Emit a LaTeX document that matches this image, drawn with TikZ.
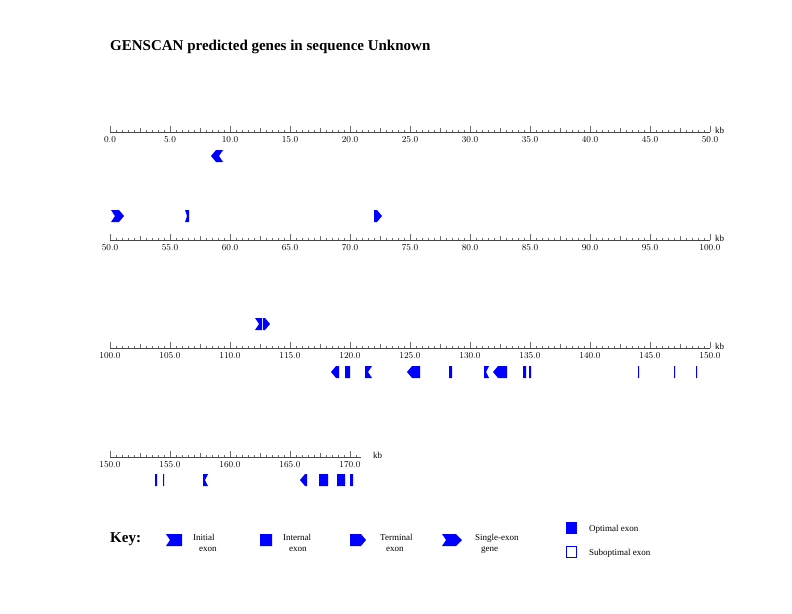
\documentclass[tikz,border=0pt]{standalone}
\usepackage{fontspec}
\setmainfont{Liberation Serif}
\usetikzlibrary{positioning}
\definecolor{exonBlue}{RGB}{0,0,255}
\definecolor{rulerGray}{RGB}{70,70,70}
\tikzset{
  exon/.style={fill=exonBlue},
  ruler line/.style={draw=rulerGray,line width=.7pt},
  ruler tick/.style={draw=rulerGray!80,line width=.5pt},
  tick label/.style={inner sep=0pt,font=\fontsize{9}{10}\selectfont},
  key text/.style={inner sep=0pt,anchor=base west,align=left,font=\fontsize{9}{11}\selectfont},
}
% a, b, y, top-left inset, mid-left inset, top-right inset, mid-right inset
\newcommand{\exonshape}[7]{\fill[exon] (#1+#4,#3-6) -- (#2-#6,#3-6) -- (#2-#7,#3) -- (#2-#6,#3+6) -- (#1+#4,#3+6) -- (#1+#5,#3) -- cycle;}
\newcommand{\initFwd}[4][4]{\exonshape{#2}{#3}{#4}{0}{#1}{0}{0}}
\newcommand{\termFwd}[3]{\exonshape{#1}{#2}{#3}{0}{0}{5}{0}}
\newcommand{\singleFwd}[3]{\exonshape{#1}{#2}{#3}{0}{4}{5}{0}}
\newcommand{\intExon}[3]{\exonshape{#1}{#2}{#3}{0}{0}{0}{0}}
\newcommand{\initRev}[4][4]{\exonshape{#2}{#3}{#4}{0}{0}{0}{#1}}
\newcommand{\termRev}[3]{\exonshape{#1}{#2}{#3}{5}{0}{0}{0}}
\newcommand{\singleRev}[3]{\exonshape{#1}{#2}{#3}{5}{0}{0}{4}}
% name, y, first kb, last label, end x, last tick, kb x
\newcommand{\kbruler}[7]{%
  \draw[ruler line] (110,#2) -- (#5,#2);
  \foreach \i in {0,...,#6}{%
    \pgfmathsetmacro{\tickh}{mod(\i,10)==0 ? 6 : (mod(\i,5)==0 ? 4 : 2.3)}%
    \draw[ruler tick] (110+6*\i,#2) -- ++(0,-\tickh);}
  \foreach \j in {0,...,#4}{%
    \pgfmathsetmacro{\kbval}{#3+5*\j}%
    \node[tick label] (#1-\j) at (110+60*\j,#2+8) {\pgfmathprintnumber[fixed,fixed zerofill,precision=1]{\kbval}};}
  \node[tick label,anchor=west] (#1-kb) at (#7,#2-2) {kb};}

\begin{document}
\begin{tikzpicture}[x=1pt,y=-1pt]
\fill[white] (0,0) rectangle (792,613);
\useasboundingbox (0,0) rectangle (792,613);
\node[anchor=base west,inner sep=0pt,font=\bfseries\fontsize{15}{18}\selectfont] (title) at (110,50) {GENSCAN predicted genes in sequence Unknown};

\kbruler{rowA}{132}{0}{10}{710}{100}{715}
\kbruler{rowB}{240}{50}{10}{710}{100}{715}
\kbruler{rowC}{348}{100}{10}{710}{100}{715}
\kbruler{rowD}{457}{150}{4}{361}{41}{373}

\singleRev{211}{223}{156}

\singleFwd{111}{124}{216}
\initFwd[2]{185}{189}{216}
\termFwd{374}{382}{216}

\initFwd{255}{262}{324}
\termFwd{263}{270}{324}
\termRev{331}{339}{372}
\intExon{345}{350}{372}
\initRev{365}{372}{372}
\termRev{407}{420}{372}
\intExon{449}{452}{372}
\initRev[3]{484}{489}{372}
\termRev{493}{507}{372}
\intExon{523}{526}{372}
\intExon{529}{531}{372}
\intExon{638}{639}{372}
\intExon{674}{675}{372}
\intExon{696}{697}{372}

\intExon{155}{157}{480}
\intExon{163}{164.2}{480}
\initRev[3]{203}{208}{480}
\termRev{300}{307}{480}
\intExon{319}{328}{480}
\intExon{337}{345}{480}
\intExon{350}{353}{480}

\node[anchor=base west,inner sep=0pt,font=\bfseries\fontsize{15}{18}\selectfont] (keyHead) at (110,542) {Key:};
\initFwd{166}{182}{540}
\node[key text] (keyInit) at (193,551) {Initial\\\hspace*{6pt}exon};
\intExon{260}{272}{540}
\node[key text] (keyInt) at (283,551) {Internal\\\hspace*{6pt}exon};
\termFwd{350}{366}{540}
\node[key text] (keyTerm) at (380,551) {Terminal\\\hspace*{6pt}exon};
\exonshape{442}{462}{540}{0}{4}{6}{0}
\node[key text] (keySingle) at (475,551) {Single-exon\\\hspace*{6pt}gene};
\fill[exonBlue] (566,522) rectangle (577,534);
\node[key text] (keyOpt) at (589,531) {Optimal exon};
\draw[exonBlue,line width=1pt] (566.5,546.5) rectangle (576.5,557.5);
\node[key text] (keySub) at (589,555) {Suboptimal exon};
\end{tikzpicture}
\end{document}
